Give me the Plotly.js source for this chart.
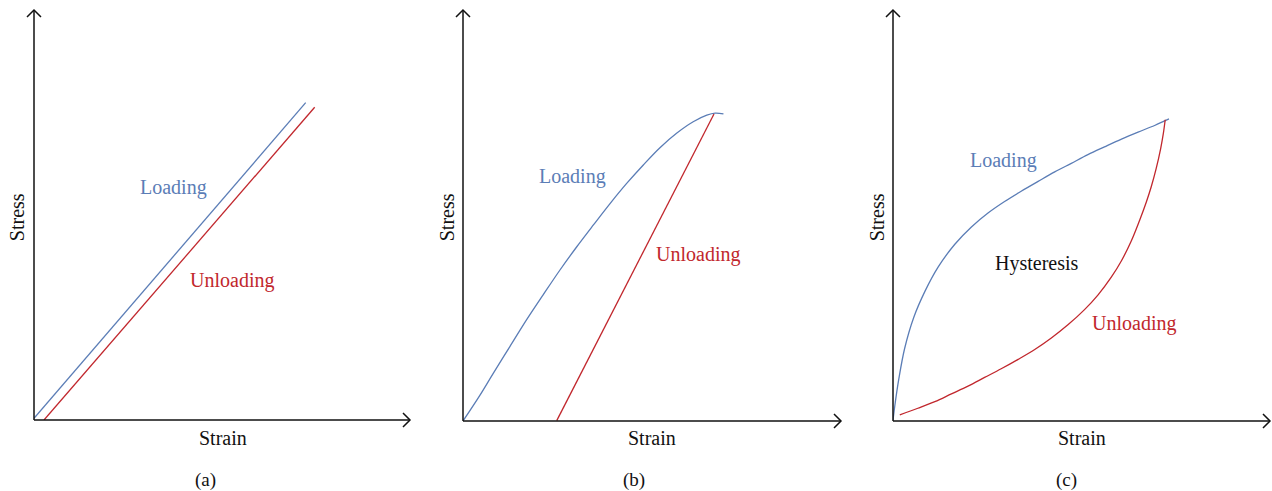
<!DOCTYPE html>
<html>
<head>
<meta charset="utf-8">
<script src="https://cdn.plot.ly/plotly-3.0.1.min.js"></script>
<style>html,body{margin:0;padding:0;background:#fff;}#chart{width:1272px;height:491px;}</style>
</head>
<body>
<div id="chart"></div>
<script>
// Panel (a): linear elastic
const aLoadStrain = [0.0, 0.7226];
const aLoadStress = [0.004, 0.774];
const aUnloadStrain = [0.0266, 0.7465];
const aUnloadStress = [0.0, 0.7627];

// Panel (b): plastic deformation
const bLoadStrain = [0.0, 0.045, 0.080, 0.124, 0.168, 0.212, 0.257, 0.301, 0.345, 0.389, 0.433, 0.477, 0.521, 0.565, 0.609, 0.645, 0.667, 0.689];
const bLoadStress = [0.0, 0.063, 0.116, 0.181, 0.246, 0.307, 0.368, 0.424, 0.477, 0.529, 0.578, 0.623, 0.665, 0.700, 0.728, 0.744, 0.749, 0.747];
const bUnloadStrain = [0.248, 0.664];
const bUnloadStress = [0.001, 0.747];

// Panel (c): hysteresis
const cLoadStrain = [0.0, 0.006, 0.015, 0.031, 0.055, 0.085, 0.120, 0.164, 0.208, 0.252, 0.296, 0.340, 0.385, 0.429, 0.473, 0.517, 0.561, 0.606, 0.650, 0.694, 0.732];
const cLoadStress = [0.002, 0.045, 0.100, 0.177, 0.252, 0.316, 0.375, 0.430, 0.472, 0.506, 0.534, 0.559, 0.583, 0.606, 0.627, 0.648, 0.667, 0.686, 0.703, 0.719, 0.735];
const cUnloadStrain = [0.018, 0.066, 0.111, 0.155, 0.199, 0.243, 0.287, 0.332, 0.376, 0.420, 0.464, 0.508, 0.544, 0.579, 0.606, 0.632, 0.654, 0.672, 0.685, 0.698, 0.710, 0.717, 0.722];
const cUnloadStress = [0.015, 0.031, 0.047, 0.066, 0.085, 0.106, 0.127, 0.150, 0.174, 0.202, 0.234, 0.271, 0.307, 0.350, 0.390, 0.438, 0.488, 0.533, 0.570, 0.614, 0.663, 0.699, 0.733];

const xLabel = "Strain";
const yLabel = "Stress";
const panelLabels = ["(a)", "(b)", "(c)"];
const loadLabel = "Loading";
const unloadLabel = "Unloading";
const hystLabel = "Hysteresis";

const BLUE = "#5b7db6";
const RED = "#c1272d";
const FONT = "Liberation Serif, Times New Roman, serif";
const W = 1272, H = 491;

// panel frames in pixels: origin x, axis length, origin y, axis height
const frames = [
  {x0: 34, xl: 376, y0: 420, yl: 410},
  {x0: 463, xl: 378, y0: 421, yl: 411},
  {x0: 893, xl: 377, y0: 421, yl: 411}
];

const traces = [];
function addLine(xs, ys, color, idx, shape) {
  const sfx = idx === 0 ? "" : String(idx + 1);
  traces.push({
    x: xs, y: ys, type: "scatter", mode: "lines",
    line: {color: color, width: 1.3, shape: shape, smoothing: 1, simplify: false},
    xaxis: "x" + sfx, yaxis: "y" + sfx, hoverinfo: "skip", cliponaxis: false
  });
}
addLine(aLoadStrain, aLoadStress, BLUE, 0, "linear");
addLine(aUnloadStrain, aUnloadStress, RED, 0, "linear");
addLine(bLoadStrain, bLoadStress, BLUE, 1, "spline");
addLine(bUnloadStrain, bUnloadStress, RED, 1, "linear");
addLine(cLoadStrain, cLoadStress, BLUE, 2, "spline");
addLine(cUnloadStrain, cUnloadStress, RED, 2, "spline");

const layout = {
  width: W, height: H,
  margin: {l: 0, r: 0, t: 0, b: 0},
  paper_bgcolor: "#fff", plot_bgcolor: "rgba(0,0,0,0)",
  showlegend: false,
  shapes: [], annotations: []
};

const labelPos = [
  [{t: loadLabel, x: 0.372, y: 0.568, c: BLUE}, {t: unloadLabel, x: 0.527, y: 0.341, c: RED}],
  [{t: loadLabel, x: 0.291, y: 0.594, c: BLUE}, {t: unloadLabel, x: 0.622, y: 0.404, c: RED}],
  [{t: loadLabel, x: 0.294, y: 0.633, c: BLUE}, {t: hystLabel, x: 0.383, y: 0.384, c: "#111"}, {t: unloadLabel, x: 0.639, y: 0.238, c: RED}]
];
const titleOff = [
  {sx: 0.503, sy: -0.044, px: 0.455, py: -0.146, yx: -0.045, yy: 0.495},
  {sx: 0.500, sy: -0.041, px: 0.452, py: -0.144, yx: -0.042, yy: 0.496},
  {sx: 0.501, sy: -0.041, px: 0.459, py: -0.144, yx: -0.042, yy: 0.496}
];

const A = 7; // arrow arm length in px
function P(px, py) { return (px / W).toFixed(5) + "," + ((H - py) / H).toFixed(5); }

frames.forEach((f, i) => {
  const sfx = i === 0 ? "" : String(i + 1);
  const ax = {
    domain: [f.x0 / W, (f.x0 + f.xl) / W],
    range: [0, 1], showgrid: false, zeroline: false, showticklabels: false,
    showline: false, ticks: "", fixedrange: true, anchor: "y" + sfx
  };
  const ay = {
    domain: [(H - f.y0) / H, (H - f.y0 + f.yl) / H],
    range: [0, 1], showgrid: false, zeroline: false, showticklabels: false,
    showline: false, ticks: "", fixedrange: true, anchor: "x" + sfx
  };
  layout["xaxis" + sfx] = ax;
  layout["yaxis" + sfx] = ay;
  const xr = "x" + sfx, yr = "y" + sfx;
  const xd = xr + " domain", yd = yr + " domain";
  const axStyle = {color: "#111", width: 1.5};
  layout.shapes.push({type: "line", xref: xd, yref: yd, x0: 0, y0: 0, x1: 1, y1: 0, line: axStyle});
  layout.shapes.push({type: "line", xref: xd, yref: yd, x0: 0, y0: 0, x1: 0, y1: 1, line: axStyle});
  const tx = f.x0 + f.xl, ty = f.y0;
  layout.shapes.push({type: "path", xref: "paper", yref: "paper",
    path: "M" + P(tx - A, ty - A) + " L" + P(tx, ty) + " L" + P(tx - A, ty + A), line: axStyle});
  const ux = f.x0, uy = f.y0 - f.yl;
  layout.shapes.push({type: "path", xref: "paper", yref: "paper",
    path: "M" + P(ux - A, uy + A) + " L" + P(ux, uy) + " L" + P(ux + A, uy + A), line: axStyle});

  labelPos[i].forEach(l => {
    layout.annotations.push({text: l.t, x: l.x, y: l.y, xref: xd, yref: yd, showarrow: false,
      font: {family: FONT, size: 20, color: l.c}, xanchor: "center", yanchor: "middle"});
  });
  const o = titleOff[i];
  layout.annotations.push({text: xLabel, x: o.sx, y: o.sy, xref: xd, yref: yd, showarrow: false,
    font: {family: FONT, size: 20, color: "#111"}, xanchor: "center", yanchor: "middle"});
  layout.annotations.push({text: yLabel, x: o.yx, y: o.yy, xref: xd, yref: yd, showarrow: false, textangle: -90,
    font: {family: FONT, size: 20, color: "#111"}, xanchor: "center", yanchor: "middle"});
  layout.annotations.push({text: panelLabels[i], x: o.px, y: o.py, xref: xd, yref: yd, showarrow: false,
    font: {family: FONT, size: 19, color: "#111"}, xanchor: "center", yanchor: "middle"});
});

Plotly.newPlot("chart", traces, layout, {staticPlot: true, displayModeBar: false});
</script>
</body>
</html>
